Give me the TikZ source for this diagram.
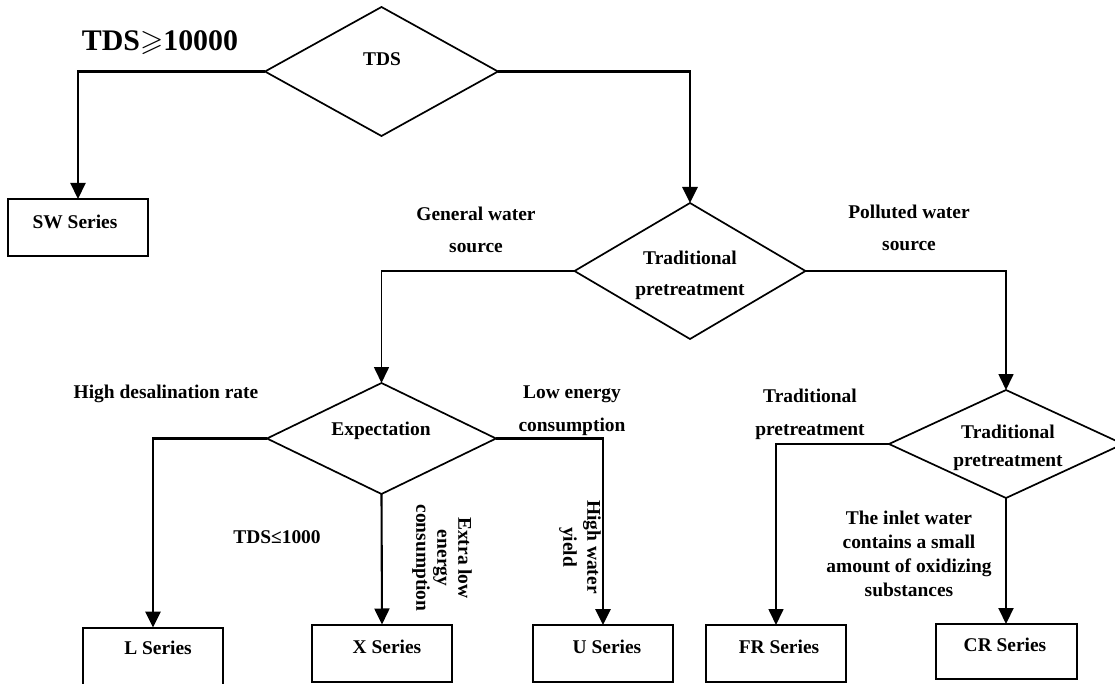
\documentclass[tikz,border=0pt]{standalone}
\usepackage{fontspec}
\usepackage{amssymb}
\setmainfont{Liberation Serif}
\usetikzlibrary{shapes.geometric,arrows.meta}
\begin{document}
\begin{tikzpicture}[x=1bp,y=-1bp,
  every node/.style={inner sep=0pt, outer sep=0pt},
  txt/.style={align=center, font=\bfseries\fontsize{19.5}{#1}\selectfont},
  txt/.default=31,
  dia/.style={draw, diamond, line width=1.7bp, inner sep=0pt},
  sbox/.style={draw, rectangle, line width=2bp, minimum width=140bp, minimum height=57bp},
  arr/.style={-{Triangle[width=15bp,length=16bp]}},
  lnthin/.style={line width=1.7bp},
  lnmed/.style={line width=2.1bp},
  lnthick/.style={line width=2.7bp}
]
\useasboundingbox (0,0) rectangle (1115,684);
\clip (0,0) rectangle (1115,684);

% diamonds
\node[dia, minimum width=233bp, minimum height=129bp] (tds) at (381.5,71.5) {};
\node[dia, minimum width=231bp, minimum height=136bp] (t1) at (690,271) {};
\node[dia, minimum width=229bp, minimum height=111bp] (exp) at (381.5,438.5) {};
\node[dia, minimum width=234bp, minimum height=108bp] (t2) at (1006,444) {};

% boxes
\node[sbox] (sw) at (78,227.5) {};
\node[sbox] (lb) at (153,656) {};
\node[sbox] (xb) at (382,653) {};
\node[sbox] (ub) at (603,653.5) {};
\node[sbox] (frb) at (776,653.5) {};
\node[sbox, minimum width=141bp, minimum height=55bp] (crb) at (1006,651.5) {};

% box texts
\node[txt] (swt) at (75,222) {SW Series};
\node[txt] (lbt) at (158,648) {L Series};
\node[txt] (xbt) at (387,647) {X Series};
\node[txt] (ubt) at (607,647) {U Series};
\node[txt] (frbt) at (779,647) {FR Series};
\node[txt] (crbt) at (1005,645) {CR Series};

% diamond texts
\node[txt] (tdst) at (382,59) {TDS};
\node[txt=31] (t1t) at (690,275) {Traditional\\pretreatment};
\node[txt] (expt) at (381,431) {Expectation};
\node[txt=28] (t2t) at (1008,448) {Traditional\\pretreatment};

% branch labels
\node[align=center, font=\bfseries\fontsize{30}{34}\selectfont] (geq) at (160,43) {TDS$\geqslant$10000};
\node[txt=32] (genl) at (476,230) {General water\\source};
\node[txt=32] (poll) at (909,228) {Polluted water\\source};
\node[txt] (hdr) at (166,394) {High desalination rate};
\node[txt=33] (lec) at (572,411) {Low energy\\consumption};
\node[txt] (tdsle) at (277,537) {TDS≤1000};
\node[txt=21, rotate=-90] (elec) at (442,558) {Extra low\\energy\\consumption};
\node[txt=24, rotate=-90] (hwy) at (580,547) {High water\\yield};
\node[txt=33] (trl) at (810,414) {Traditional\\pretreatment};
\node[txt=24] (inl) at (909,554) {The inlet water\\contains a small\\amount of oxidizing\\substances};

% connectors
\draw[arr, lnmed] (tds.west) -| (sw.north);
\draw[arr, lnthick] (tds.east) -| (t1.north);
\draw[arr, lnthin] (t1.west) -| (exp.north);
\draw[arr, lnthin] (t1.east) -| (t2.north);
\draw[arr, lnthick] (exp.west) -| (lb.north);
\draw[arr, lnmed] (exp.south) -- (xb.north);
\draw[arr, lnthick] (exp.east) -| (ub.north);
\draw[arr, lnthin] (t2.west) -| (frb.north);
\draw[arr, lnmed] (t2.south) -- (crb.north);
\end{tikzpicture}
\end{document}
